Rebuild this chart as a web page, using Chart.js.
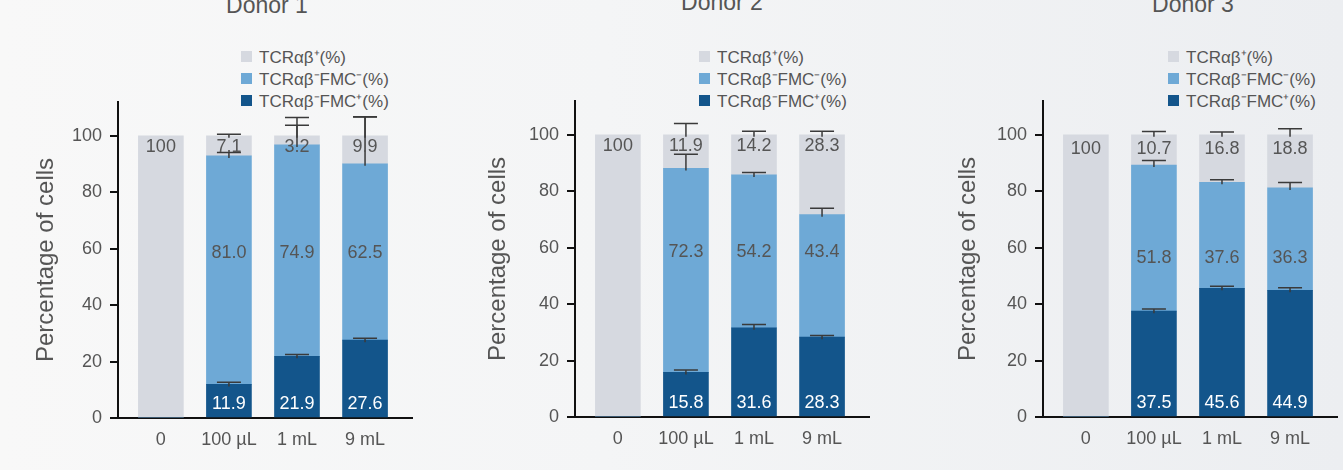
<!DOCTYPE html>
<html>
<head>
<meta charset="utf-8">
<script src="https://cdn.jsdelivr.net/npm/chart.js@4"></script>
<style>
  body {
    margin: 0;
    width: 1343px;
    height: 470px;
    overflow: hidden;
    position: relative;
    background: linear-gradient(90deg, #f8f8f8 0%, #f4f5f6 45%, #eceef1 100%);
    font-family: "Liberation Sans", Arial, sans-serif;
    color: #555;
  }
  .panel { position: absolute; width: 418px; height: 470px; }
  .title { position: absolute; font-size: 23px; line-height: 23px; white-space: nowrap; transform: translateX(-50%); }
  .legend { position: absolute; font-size: 17px; white-space: nowrap; }
  .legend .row { height: 22px; display: flex; align-items: center; }
  .legend .box { width: 11px; height: 11px; margin-right: 7px; }
</style>
</head>
<body>
<script>
var categories = ["0", "100 µL", "1 mL", "9 mL"];
var donors = ["Donor 1", "Donor 2", "Donor 3"];
// stack order, bottom to top
var seriesNames = ["TCRαβ⁻FMC⁺(%)", "TCRαβ⁻FMC⁻(%)", "TCRαβ⁺(%)"];
var seriesColors = ["#13558b", "#6ea9d6", "#d6d9e0"];
var yTicks = [0, 20, 40, 60, 80, 100];

// Donor 1
var fmcPos1 = [0, 11.9, 21.9, 27.6];
var fmcNeg1 = [0, 81.0, 74.9, 62.5];
var tcrPos1 = [100, 7.1, 3.2, 9.9];
var errFmcPos1 = [0, 0.8, 0.6, 0.7];
var errFmcNeg1 = [0, 1.2, 7.0, 16.6];
var errTcrPos1 = [0, 0.6, 6.5, 6.8];

// Donor 2
var fmcPos2 = [0, 15.8, 31.6, 28.3];
var fmcNeg2 = [0, 72.3, 54.2, 43.4];
var tcrPos2 = [100, 11.9, 14.2, 28.3];
var errFmcPos2 = [0, 0.9, 1.2, 0.6];
var errFmcNeg2 = [0, 5.0, 0.9, 2.3];
var errTcrPos2 = [0, 4.0, 1.3, 1.3];

// Donor 3
var fmcPos3 = [0, 37.5, 45.6, 44.9];
var fmcNeg3 = [0, 51.8, 37.6, 36.3];
var tcrPos3 = [100, 10.7, 16.8, 18.8];
var errFmcPos3 = [0, 0.8, 0.7, 0.9];
var errFmcNeg3 = [0, 1.6, 0.9, 1.9];
var errTcrPos3 = [0, 1.2, 1.0, 2.2];

var panelData = [
  { values: [fmcPos1, fmcNeg1, tcrPos1], errors: [errFmcPos1, errFmcNeg1, errTcrPos1] },
  { values: [fmcPos2, fmcNeg2, tcrPos2], errors: [errFmcPos2, errFmcNeg2, errTcrPos2] },
  { values: [fmcPos3, fmcNeg3, tcrPos3], errors: [errFmcPos3, errFmcNeg3, errTcrPos3] }
];

// placement of each panel on the page
var panels = [
  { left: 0, top: 0, titleX: 267, titleTop: -6.5, titlePad: 31.6, legendX: 241, labelAt: [4.8, 58.3, 96] },
  { left: 457, top: -1, titleX: 722, titleTop: -9.5, titlePad: 26.6, legendX: 699, labelAt: [4.8, 58.3, 96] },
  { left: 925, top: -1, titleX: 1193, titleTop: -7, titlePad: 28.6, legendX: 1168, labelAt: [4.8, 56.5, 94.8] }
];

Chart.defaults.font.family = '"Liberation Sans", Arial, sans-serif';
Chart.defaults.color = "#555";

// error bars (mean + SD, upper cap) and the numbers on the segments
var segLabels = {
  id: "segLabels",
  afterDatasetsDraw: function(chart, args, opts) {
    var ctx = chart.ctx;
    var yScale = chart.scales.y;
    var datasets = chart.data.datasets;
    ctx.save();
    ctx.strokeStyle = "#3a3a3a";
    ctx.lineWidth = 1.5;
    datasets.forEach(function(ds, di) {
      chart.getDatasetMeta(di).data.forEach(function(bar, i) {
        var sd = ds.errors[i];
        if (!sd) return;
        var top = 0;
        for (var k = 0; k <= di; k++) top += datasets[k].data[i].y;
        var yCap = yScale.getPixelForValue(top + sd);
        ctx.beginPath();
        ctx.moveTo(bar.x, bar.y + 2);
        ctx.lineTo(bar.x, yCap);
        ctx.moveTo(bar.x - 12, yCap);
        ctx.lineTo(bar.x + 12, yCap);
        ctx.stroke();
      });
    });
    ctx.font = '18px "Liberation Sans", Arial, sans-serif';
    ctx.textAlign = "center";
    ctx.textBaseline = "middle";
    datasets.forEach(function(ds, di) {
      chart.getDatasetMeta(di).data.forEach(function(bar, i) {
        var v = ds.data[i].y;
        if (!v) return;
        ctx.fillStyle = di === 0 ? "#ffffff" : "#555555";
        var txt = v === 100 ? "100" : v.toFixed(1);
        ctx.fillText(txt, bar.x, yScale.getPixelForValue(opts.at[di]));
      });
    });
    ctx.restore();
  }
};

panels.forEach(function(p, n) {
  var d = panelData[n];

  var title = document.createElement("div");
  title.className = "title";
  title.style.left = p.titleX + "px";
  title.style.top = p.titleTop + "px";
  title.textContent = donors[n];
  document.body.appendChild(title);

  var legend = document.createElement("div");
  legend.className = "legend";
  legend.style.left = p.legendX + "px";
  legend.style.top = "45px";
  for (var k = seriesNames.length - 1; k >= 0; k--) {
    var row = document.createElement("div");
    row.className = "row";
    var box = document.createElement("span");
    box.className = "box";
    box.style.background = seriesColors[k];
    row.appendChild(box);
    row.appendChild(document.createTextNode(seriesNames[k]));
    legend.appendChild(row);
  }
  document.body.appendChild(legend);

  var wrap = document.createElement("div");
  wrap.className = "panel";
  wrap.style.left = p.left + "px";
  wrap.style.top = p.top + "px";
  var canvas = document.createElement("canvas");
  canvas.width = 418;
  canvas.height = 470;
  wrap.appendChild(canvas);
  document.body.appendChild(wrap);

  new Chart(canvas, {
    type: "bar",
    data: {
      datasets: seriesNames.map(function(name, k) {
        return {
          label: name,
          data: categories.map(function(c, i) { return { x: i, y: d.values[k][i] }; }),
          errors: d.errors[k],
          backgroundColor: seriesColors[k],
          barThickness: 45,
          borderWidth: 0
        };
      })
    },
    options: {
      responsive: false,
      animation: false,
      events: [],
      layout: { padding: { top: 102, right: 6, left: 0, bottom: 0 } },
      plugins: {
        legend: { display: false },
        tooltip: { enabled: false },
        segLabels: { at: p.labelAt }
      },
      scales: {
        x: {
          type: "linear",
          stacked: true,
          offset: false,
          min: -0.63,
          max: 3.69,
          grid: { display: false, drawTicks: false, offset: false },
          border: { color: "#111", width: 2 },
          afterBuildTicks: function(s) { s.ticks = categories.map(function(c, i) { return { value: i }; }); },
          afterFit: function(s) { s.height = 52; },
          ticks: {
            callback: function(v) { return categories[v]; },
            font: { size: 18 },
            color: "#555",
            padding: 11,
            autoSkip: false,
            maxRotation: 0
          }
        },
        y: {
          stacked: true,
          min: 0,
          max: 112,
          afterBuildTicks: function(s) { s.ticks = yTicks.map(function(v) { return { value: v }; }); },
          afterFit: function(s) { s.width = 118; },
          grid: { drawOnChartArea: false, drawTicks: true, tickLength: 8, color: "#111", lineWidth: 2 },
          border: { color: "#111", width: 2 },
          ticks: { font: { size: 18 }, color: "#555", padding: 8 },
          title: {
            display: true,
            text: "Percentage of cells",
            font: { size: 24 },
            color: "#555",
            padding: { top: p.titlePad, bottom: 0 }
          }
        }
      }
    },
    plugins: [segLabels]
  });
});
</script>
</body>
</html>
